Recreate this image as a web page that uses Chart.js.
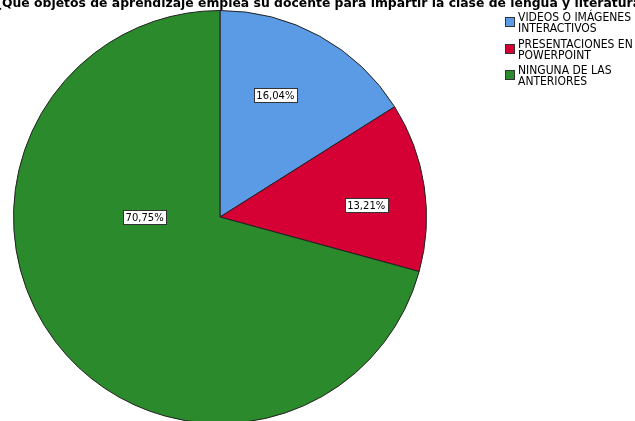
<!DOCTYPE html>
<html>
<head>
<meta charset="utf-8">
<script src="https://cdn.jsdelivr.net/npm/chart.js@4"></script>
<style>
    html, body { margin: 0; padding: 0; background: #fff; overflow: hidden; width: 635px; height: 421px; }
    #wrap { position: absolute; left: 0; top: 0; width: 635px; height: 440px; }
    #title {
        position: absolute; left: -36px; width: 715px; top: -5px; text-align: center;
        font: bold 12.4px "DejaVu Sans", sans-serif; white-space: nowrap; color: #000;
    }
    #legend { position: absolute; left: 505px; top: 12px; font: 12px "DejaVu Sans Condensed", "DejaVu Sans", sans-serif; color: #000; }
    .item { position: relative; padding-left: 13px; height: 26.5px; line-height: 11px; }
    .sw { position: absolute; left: 0; top: 5px; width: 8px; height: 8px; border: 1px solid #333; }
</style>
</head>
<body>
<div id="wrap"><canvas id="pie-chart" width="635" height="440"></canvas></div>
<div id="title"></div>
<div id="legend"></div>
<script>
const titleText = '¿Qué objetos de aprendizaje emplea su docente para impartir la clase de lengua y literatura?';
const categories = ['VIDEOS O IMÁGENES INTERACTIVOS', 'PRESENTACIONES EN POWERPOINT', 'NINGUNA DE LAS ANTERIORES'];
const legendLines = [['VIDEOS O IMÁGENES', 'INTERACTIVOS'], ['PRESENTACIONES EN', 'POWERPOINT'], ['NINGUNA DE LAS', 'ANTERIORES']];
const percentages = [16.04, 13.21, 70.75];
const colors = ['#5b9be6', '#d50034', '#2b8a2b'];

// label box position relative to pie centre, as a fraction of the radius
const labelPos = [[0.268, -0.589], [0.708, -0.058], [-0.365, 0.002]];

document.getElementById('title').textContent = titleText;

const legendEl = document.getElementById('legend');
legendLines.forEach((lines, i) => {
    const item = document.createElement('div');
    item.className = 'item';
    item.innerHTML = `<span class="sw" style="background:${colors[i]}"></span>${lines.join('<br>')}`;
    legendEl.appendChild(item);
});

const boxLabels = {
    id: 'boxLabels',
    afterDatasetsDraw(chart) {
        const ctx = chart.ctx;
        const arcs = chart.getDatasetMeta(0).data;
        ctx.save();
        ctx.font = '10px "DejaVu Sans", sans-serif';
        ctx.textAlign = 'center';
        ctx.textBaseline = 'middle';
        arcs.forEach((arc, i) => {
            const txt = percentages[i].toFixed(2).replace('.', ',') + '%';
            const x = arc.x + labelPos[i][0] * arc.outerRadius;
            const y = arc.y + labelPos[i][1] * arc.outerRadius;
            const w = Math.round(ctx.measureText(txt).width + 5);
            const h = 14;
            const bx = Math.round(x - w / 2) + 0.5, by = Math.round(y - h / 2) + 0.5;
            ctx.fillStyle = '#fff';
            ctx.fillRect(bx, by, w, h);
            ctx.strokeStyle = '#333';
            ctx.lineWidth = 1;
            ctx.strokeRect(bx, by, w, h);
            ctx.fillStyle = '#000';
            ctx.fillText(txt, x, y + 1);
        });
        ctx.restore();
    }
};

new Chart(document.getElementById('pie-chart').getContext('2d'), {
    type: 'pie',
    data: {
        labels: categories,
        datasets: [{
            data: percentages,
            backgroundColor: colors,
            borderColor: '#222',
            borderWidth: 1,
        }],
    },
    options: {
        responsive: false,
        animation: false,
        layout: { padding: { left: 13, top: 10, right: 208, bottom: 16 } },
        plugins: {
            legend: { display: false },
            tooltip: { enabled: false },
        },
    },
    plugins: [boxLabels],
});
</script>
</body>
</html>
